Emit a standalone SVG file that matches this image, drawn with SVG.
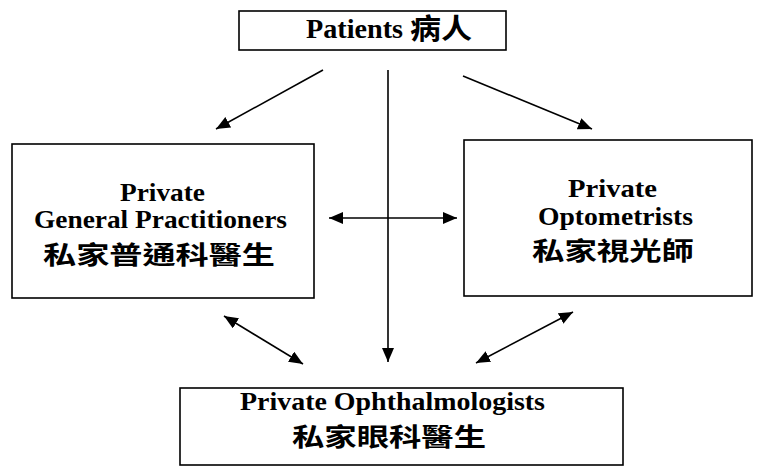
<svg xmlns="http://www.w3.org/2000/svg" width="757" height="471" viewBox="0 0 757 471">
<defs>
<marker id="ah" viewBox="0 0 14 12" refX="14" refY="6" markerWidth="14" markerHeight="12" markerUnits="userSpaceOnUse" orient="auto-start-reverse">
<path d="M0,0 L14,6 L0,12 Z" fill="#000"/>
</marker>
</defs>
<style>
.box{fill:#fff;stroke:#000;stroke-width:1.6}
.lat{font-family:"Liberation Serif","Times New Roman",serif;font-weight:bold;fill:#000}
.cjk{font-family:"Noto Sans CJK TC","Noto Sans CJK SC",sans-serif;font-weight:bold;fill:#000}
.ln{stroke:#000;stroke-width:1.6;fill:none}
</style>
<rect width="757" height="471" fill="#fff"/>
<g id="patients">
<rect class="box" x="239" y="11" width="267" height="39"/>
<text x="306" y="38" font-size="27" textLength="97" lengthAdjust="spacingAndGlyphs" class="lat">Patients</text>
<text x="410" y="39" font-size="28" textLength="62" lengthAdjust="spacingAndGlyphs" class="cjk">病人</text>
</g>
<g id="gp">
<rect class="box" x="12" y="144" width="302" height="154"/>
<text x="120" y="201" font-size="26" textLength="85" lengthAdjust="spacingAndGlyphs" class="lat">Private</text>
<text x="34" y="228" font-size="26" textLength="253" lengthAdjust="spacingAndGlyphs" class="lat">General Practitioners</text>
<text x="43" y="264" font-size="25" textLength="232" lengthAdjust="spacingAndGlyphs" class="cjk">私家普通科醫生</text>
</g>
<g id="optometrists">
<rect class="box" x="464" y="140" width="288" height="156"/>
<text x="568" y="197" font-size="26" textLength="89" lengthAdjust="spacingAndGlyphs" class="lat">Private</text>
<text x="538" y="225" font-size="26" textLength="155" lengthAdjust="spacingAndGlyphs" class="lat">Optometrists</text>
<text x="532" y="260" font-size="25" textLength="162" lengthAdjust="spacingAndGlyphs" class="cjk">私家視光師</text>
</g>
<g id="ophthalmologists">
<rect class="box" x="180" y="388" width="443" height="77"/>
<text x="240" y="410" font-size="26" textLength="305" lengthAdjust="spacingAndGlyphs" class="lat">Private Ophthalmologists</text>
<text x="292" y="446" font-size="25" textLength="194" lengthAdjust="spacingAndGlyphs" class="cjk">私家眼科醫生</text>
</g>
<g id="connectors">
<line class="ln" x1="323" y1="70" x2="216" y2="129" marker-end="url(#ah)"/>
<line class="ln" x1="463" y1="76" x2="592" y2="129" marker-end="url(#ah)"/>
<line class="ln" x1="388" y1="70" x2="388" y2="362" marker-end="url(#ah)"/>
<line class="ln" x1="329" y1="218" x2="457" y2="218" marker-start="url(#ah)" marker-end="url(#ah)"/>
<line class="ln" x1="224" y1="316" x2="303" y2="364" marker-start="url(#ah)" marker-end="url(#ah)"/>
<line class="ln" x1="573" y1="312" x2="476" y2="363" marker-start="url(#ah)" marker-end="url(#ah)"/>
</g>
</svg>
